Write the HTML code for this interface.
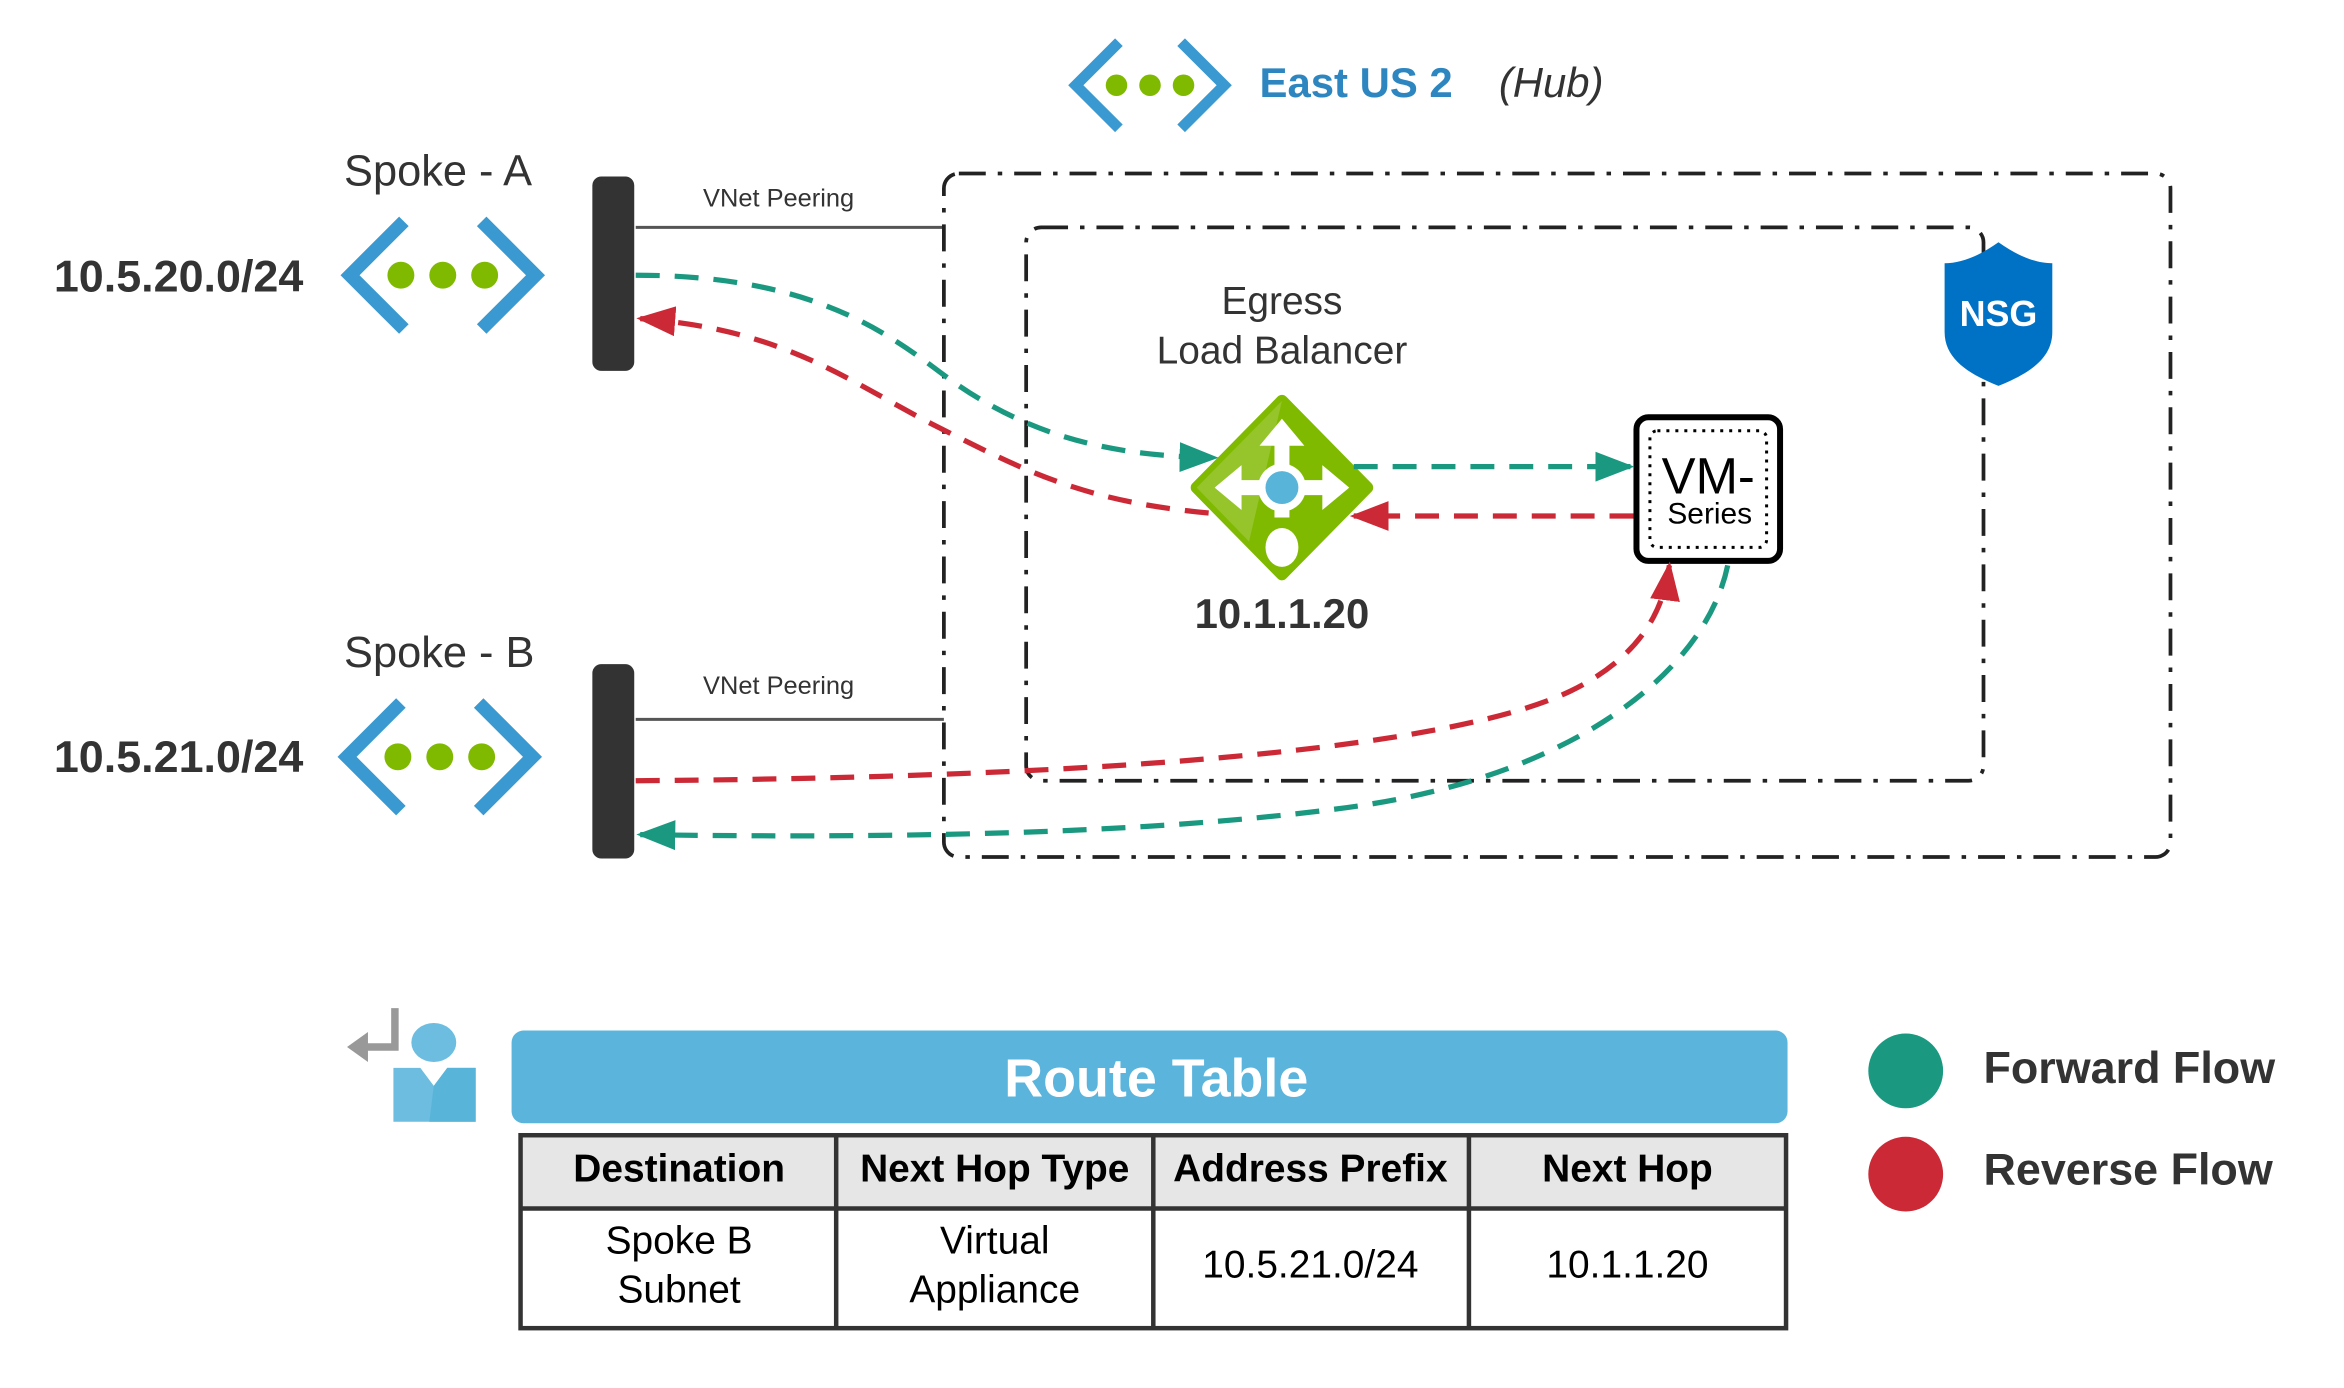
<!DOCTYPE html>
<html><head><meta charset="utf-8"><style>html,body{margin:0;padding:0;background:#fff}svg{display:block}</style></head><body>
<svg width="2344" height="1388" viewBox="0 0 1567 928" preserveAspectRatio="none" xmlns="http://www.w3.org/2000/svg" font-family="Liberation Sans, sans-serif">
<defs>
<marker id="gA" viewBox="0 0 10 10" refX="9" refY="5" markerWidth="26" markerHeight="20" orient="auto" markerUnits="userSpaceOnUse" preserveAspectRatio="none"><path d="M0,0 L10,5 L0,10z" fill="#1a9980"/></marker>
<marker id="rA" viewBox="0 0 10 10" refX="9" refY="5" markerWidth="26" markerHeight="20" orient="auto" markerUnits="userSpaceOnUse" preserveAspectRatio="none"><path d="M0,0 L10,5 L0,10z" fill="#cc2936"/></marker>
<g id="vnet">
<path d="M40,-36 L4,0 L40,36" fill="none" stroke="#3a99d0" stroke-width="9"/>
<path d="M92,-36 L128,0 L92,36" fill="none" stroke="#3a99d0" stroke-width="9"/>
<circle cx="38" cy="0" r="9" fill="#7fba00"/><circle cx="66" cy="0" r="9" fill="#7fba00"/><circle cx="94" cy="0" r="9" fill="#7fba00"/>
</g>
</defs>
<use href="#vnet" transform="translate(716,57) scale(0.8)"/>
<text x="842" y="65" font-size="28" font-weight="bold" fill="#2e86c1">East US 2</text>
<text x="1002" y="65" font-size="28" font-style="italic" fill="#333">(Hub)</text>
<text x="230" y="124" font-size="29" fill="#333">Spoke - A</text>
<text x="36" y="195" font-size="30" font-weight="bold" fill="#333">10.5.20.0/24</text>
<use href="#vnet" transform="translate(230,184)"/>
<rect x="396" y="118" width="28" height="130" rx="6" fill="#333"/>
<line x1="425" y1="152" x2="631" y2="152" stroke="#555" stroke-width="2"/>
<text x="470" y="138" font-size="17" fill="#333">VNet Peering</text>
<text x="230" y="446" font-size="29" fill="#333">Spoke - B</text>
<text x="36" y="516" font-size="30" font-weight="bold" fill="#333">10.5.21.0/24</text>
<use href="#vnet" transform="translate(228,506)"/>
<rect x="396" y="444" width="28" height="130" rx="6" fill="#333"/>
<line x1="425" y1="481" x2="631" y2="481" stroke="#555" stroke-width="2"/>
<text x="470" y="464" font-size="17" fill="#333">VNet Peering</text>
<rect x="631" y="116" width="820" height="457" rx="10" fill="none" stroke="#222" stroke-width="2.5" stroke-dasharray="18 8 3 8"/>
<rect x="686" y="152" width="640" height="370" rx="10" fill="none" stroke="#222" stroke-width="2.5" stroke-dasharray="18 8 3 8"/>
<path d="M1336,162 C1350,172 1362,176 1372,176 L1372,222 C1372,240 1356,250 1336,258 C1316,250 1300,240 1300,222 L1300,176 C1310,176 1322,172 1336,162z" fill="#0072c6"/>
<text x="1336" y="218" font-size="24" font-weight="bold" fill="#fff" text-anchor="middle">NSG</text>
<text x="857" y="210" font-size="26" fill="#333" text-anchor="middle">Egress</text>
<text x="857" y="243" font-size="26" fill="#333" text-anchor="middle">Load Balancer</text>
<path d="M857,268 L914,326 L857,384 L800,326z" fill="#7fba00" stroke="#7fba00" stroke-width="8" stroke-linejoin="round"/>
<path d="M857,268 L800,326 L835,362z" fill="#95c52a"/>
<g fill="#fff"><path d="M857,280 L872,298 L862,298 L862,346 L852,346 L852,298 L842,298z"/>
<path d="M812,326 L830,311 L830,321 L884,321 L884,311 L902,326 L884,341 L884,331 L830,331 L830,341z"/>
<circle cx="857" cy="326" r="16"/><ellipse cx="857" cy="366" rx="11" ry="13"/></g>
<circle cx="857" cy="326" r="11" fill="#59b4d9"/>
<text x="857" y="420" font-size="28" font-weight="bold" fill="#333" text-anchor="middle">10.1.1.20</text>
<rect x="1094" y="279" width="96" height="96" rx="8" fill="#fff" stroke="#000" stroke-width="4"/>
<rect x="1103" y="288" width="78" height="78" rx="5" fill="none" stroke="#000" stroke-width="2" stroke-dasharray="2 4"/>
<text x="1142" y="330" font-size="34" fill="#000" text-anchor="middle">VM-</text>
<text x="1143" y="350" font-size="20" fill="#000" text-anchor="middle">Series</text>
<g fill="none" stroke-width="3.5" stroke-dasharray="16 10">
<path d="M425,184 C540,184 590,220 630,250 C690,295 750,305 812,306" stroke="#1a9980" marker-end="url(#gA)"/>
<path d="M808,343 C720,335 680,312 620,282 C560,250 520,220 428,213" stroke="#cc2936" marker-end="url(#rA)"/>
<path d="M905,312 L1090,312" stroke="#1a9980" marker-end="url(#gA)"/>
<path d="M1092,345 L905,345" stroke="#cc2936" marker-end="url(#rA)"/>
<path d="M425,522 C700,520 960,505 1050,462 C1095,440 1112,410 1116,378" stroke="#cc2936" marker-end="url(#rA)"/>
<path d="M1155,378 C1140,450 1050,520 900,540 C750,560 560,560 428,558" stroke="#1a9980" marker-end="url(#gA)"/>
</g>
<path d="M264,674 L264,700 L240,700" fill="none" stroke="#999" stroke-width="5"/>
<path d="M232,700 L246,690 L246,710z" fill="#999"/>
<ellipse cx="290" cy="697" rx="15" ry="13" fill="#6cbde0"/>
<path d="M263,714 L281,714 L290,726 L299,714 L318,714 L318,750 L263,750z" fill="#6cbde0"/>
<path d="M290,726 L299,714 L318,714 L318,750 L287,750z" fill="#59b4d9"/>
<rect x="342" y="689" width="853" height="62" rx="8" fill="#5ab4dc"/>
<text x="773" y="733" font-size="36" font-weight="bold" fill="#fff" text-anchor="middle">Route Table</text>
<rect x="348" y="759" width="846" height="49" fill="#e6e6e6"/>
<g stroke="#333" stroke-width="3" fill="none">
<rect x="348" y="759" width="846" height="129"/>
<line x1="348" y1="808" x2="1194" y2="808"/>
<line x1="559" y1="759" x2="559" y2="888"/><line x1="771" y1="759" x2="771" y2="888"/><line x1="982" y1="759" x2="982" y2="888"/>
</g>
<g font-size="26" fill="#000" text-anchor="middle">
<g font-weight="bold"><text x="454" y="790">Destination</text><text x="665" y="790">Next Hop Type</text><text x="876" y="790">Address Prefix</text><text x="1088" y="790">Next Hop</text></g>
<text x="454" y="838">Spoke B</text><text x="454" y="871">Subnet</text>
<text x="665" y="838">Virtual</text><text x="665" y="871">Appliance</text>
<text x="876" y="854">10.5.21.0/24</text><text x="1088" y="854">10.1.1.20</text>
</g>
<circle cx="1274" cy="716" r="25" fill="#1a9980"/>
<circle cx="1274" cy="785" r="25" fill="#cc2936"/>
<text x="1326" y="724" font-size="30" font-weight="bold" fill="#333">Forward Flow</text>
<text x="1326" y="792" font-size="30" font-weight="bold" fill="#333">Reverse Flow</text>
</svg>
</body></html>
